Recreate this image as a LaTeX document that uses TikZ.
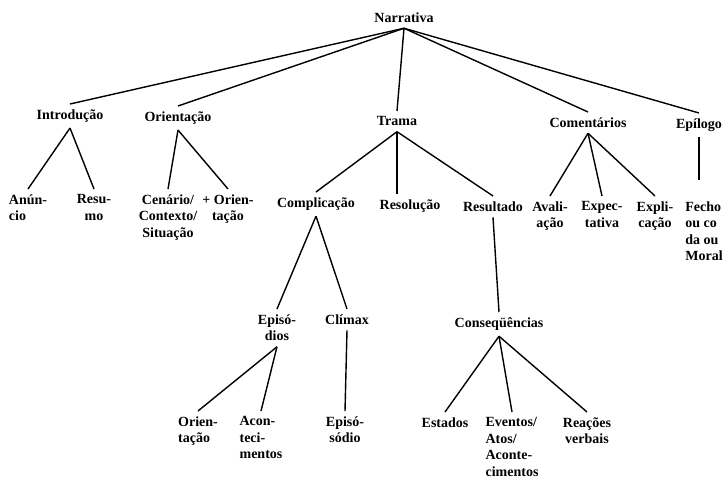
\documentclass[tikz,border=0pt]{standalone}
\usepackage{fontspec}
\setmainfont{Liberation Serif}

\begin{document}
\begin{tikzpicture}[x=1pt,y=-1pt,line width=1.4pt,
      word/.style={anchor=north,inner xsep=0pt,inner ysep=5pt,align=center,
        font=\bfseries\fontsize{14}{16.5}\selectfont},
      lword/.style={word,align=left}]
      \useasboundingbox (0,0) rectangle (725,478);

      % top levels
      \node[word] (narr) at (404,7) {Narrativa};
      \node[word] (intro) at (70,104) {Introdução};
      \node[word] (orient) at (178,106) {Orientação};
      \node[word] (trama) at (397,111) {Trama};
      \node[word] (coment) at (588,112) {Comentários};
      \node[word] (epil) at (699,113) {Epílogo};

      \node[lword] (anun) at (28,189) {Anún-\\cio};
      \node[word] (resumo) at (94,189) {Resu-\\mo};
      \node[word] (cenario) at (168,189) {Cenário/\\Contexto/\\Situação};
      \node[word] (maisori) at (228,189) {+ Orien-\\tação};
      \node[word] (compl) at (316,192) {Complicação};
      \node[word] (resol) at (410,194) {Resolução};
      \node[word] (result) at (493,196) {Resultado};
      \node[word] (avali) at (550,196) {Avali-\\ação};
      \node[word] (expec) at (602,196) {Expec-\\tativa};
      \node[word] (expli) at (655,196) {Expli-\\cação};
      \node[lword] (fecho) at (704,196) {Fecho\\ou co\\da ou\\Moral};

      \node[word] (episodios) at (277,309) {Episó-\\dios};
      \node[word] (climax) at (347,309) {Clímax};
      \node[word] (conseq) at (499,312) {Conseqüências};

      \node[lword] (orient2) at (198,411) {Orien-\\tação};
      \node[lword] (acont) at (261,411) {Acon-\\teci-\\mentos};
      \node[word] (episodio) at (345,411) {Episó-\\sódio};
      \node[word] (estados) at (445,412) {Estados};
      \node[lword] (eventos) at (512,412) {Eventos/\\Atos/\\Aconte-\\cimentos};
      \node[word] (reacoes) at (587,412) {Reações\\verbais};

      \foreach \s/\t in {narr/intro, narr/orient, narr/trama, narr/coment, narr/epil,
          intro/anun, intro/resumo, orient/cenario, orient/maisori,
          trama/compl, trama/result, coment/avali, coment/expec, coment/expli,
          compl/episodios, compl/climax, result/conseq,
          episodios/orient2, episodios/acont, climax/episodio,
          conseq/estados, conseq/eventos, conseq/reacoes} {
          \path[draw] (\s.south) edge (\t.north);}
      \draw (trama.south) -- (trama.south |- resol.north);
      \draw[shorten >=16pt] (epil.south) -- (epil.south |- fecho.north);
\end{tikzpicture}
\end{document}
